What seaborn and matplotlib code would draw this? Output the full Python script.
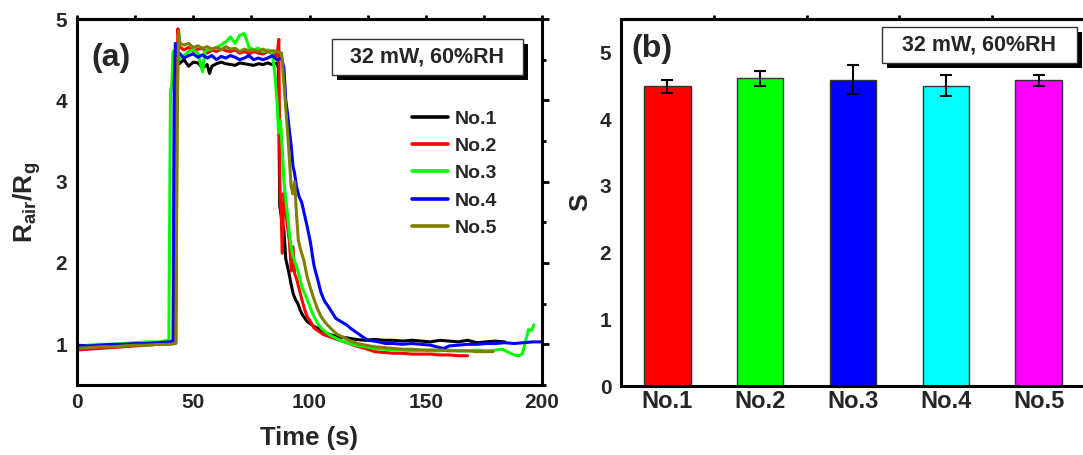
import numpy as np
import pandas as pd
import matplotlib
matplotlib.use("Agg")
import matplotlib.pyplot as plt
from matplotlib.patches import Rectangle
from matplotlib.ticker import MultipleLocator, NullFormatter
import seaborn as sns

# ---------------- data: panel (a) ----------------
t_no1 = [0, 5, 10, 15, 20, 25, 30, 35, 40, 42, 42.8, 43.2, 44, 46, 48, 50, 52, 54, 56, 57, 58, 60, 62, 64,
         66, 68, 70, 72, 74, 76, 78, 80, 82, 84, 86, 86.6, 87.2, 88, 89, 89.8, 91, 92, 93, 94, 95, 96, 97,
         98, 99, 100, 102, 104, 106, 108, 110, 113, 116, 120, 124, 128, 132, 136, 140, 144, 148, 152, 156,
         160, 164, 168, 172, 176, 180, 184]
y_no1 = [0.97, 0.98, 0.98, 0.99, 1.00, 1.00, 1.01, 1.01, 1.02, 1.02, 3.6, 4.5, 4.45, 4.5, 4.42, 4.47, 4.46,
         4.4, 4.44, 4.33, 4.42, 4.45, 4.47, 4.45, 4.44, 4.43, 4.46, 4.45, 4.44, 4.43, 4.45, 4.44, 4.46, 4.44,
         4.46, 4.4, 2.7, 2.55, 2.4, 2.05, 1.9, 1.75, 1.62, 1.55, 1.5, 1.42, 1.36, 1.32, 1.28, 1.26, 1.22,
         1.19, 1.15, 1.13, 1.11, 1.09, 1.08, 1.06, 1.05, 1.06, 1.05, 1.05, 1.04, 1.05, 1.04, 1.03, 1.05,
         1.04, 1.03, 1.05, 1.02, 1.03, 1.04, 1.03]

t_no2 = [0, 5, 10, 15, 20, 25, 30, 35, 40, 42.5, 43.0, 43.4, 44, 46, 48, 50, 52, 54, 56, 58, 60, 62, 64,
         66, 68, 70, 72, 74, 76, 78, 80, 82, 84, 86, 86.8, 87.3, 87.8, 88.3, 89, 89.6, 90.3, 91.3, 92.2,
         92.9, 93.6, 94.5, 95.2, 96, 97, 98, 99, 100, 101, 102, 104, 106, 108, 110, 113, 116, 120, 124,
         128, 132, 136, 140, 144, 148, 152, 156, 160, 164, 168]
y_no2 = [0.93, 0.94, 0.95, 0.96, 0.97, 0.98, 0.99, 1.00, 1.01, 1.02, 4.2, 4.88, 4.66, 4.62, 4.65, 4.6,
         4.63, 4.64, 4.58, 4.62, 4.6, 4.63, 4.61, 4.6, 4.62, 4.58, 4.6, 4.57, 4.6, 4.58, 4.57, 4.6, 4.58,
         4.55, 4.75, 2.9, 2.6, 2.12, 2.86, 2.7, 2.5, 2.28, 1.9, 2.2, 1.87, 1.8, 1.72, 1.63, 1.52, 1.42,
         1.34, 1.3, 1.25, 1.2, 1.16, 1.12, 1.1, 1.08, 1.05, 1.02, 0.98, 0.95, 0.91, 0.9, 0.89, 0.89, 0.88,
         0.88, 0.88, 0.87, 0.87, 0.86, 0.86]

t_no3 = [0, 5, 10, 15, 20, 25, 30, 35, 39.5, 40.2, 40.8, 41.3, 42, 44, 46, 48, 50, 52, 54, 55, 56, 58, 60,
         62, 64, 66, 68, 70, 72, 74, 76, 78, 80, 82, 84, 85.2, 86, 86.7, 87.5, 88.3, 89, 89.8, 90.5, 91.3,
         92.1, 92.9, 94.4, 95.5, 96.7, 98, 99, 100, 101, 102, 103.5, 105, 107, 109, 111, 113, 116, 120,
         124, 128, 132, 136, 140, 144, 148, 152, 156, 160, 164, 168, 172, 176, 180, 183, 185, 188, 190,
         191.5, 192.6, 193.5, 194.2, 195.5, 196.5]
y_no3 = [0.98, 0.99, 1.0, 1.0, 1.01, 1.02, 1.03, 1.03, 1.05, 4.1, 4.2, 4.6, 4.6, 4.5, 4.55, 4.6, 4.62,
         4.58, 4.35, 4.6, 4.62, 4.63, 4.65, 4.68, 4.72, 4.78, 4.7, 4.8, 4.82, 4.65, 4.62, 4.64, 4.6, 4.62,
         4.58, 4.3, 4.0, 3.6, 3.75, 3.4, 3.0, 2.78, 2.6, 2.37, 2.2, 2.08, 1.96, 1.85, 1.71, 1.62, 1.55,
         1.48, 1.4, 1.34, 1.26, 1.2, 1.15, 1.11, 1.08, 1.05, 1.02, 0.99, 0.97, 0.95, 0.94, 0.93, 0.93,
         0.92, 0.93, 0.92, 0.92, 0.93, 0.92, 0.92, 0.93, 0.92, 0.93, 0.94, 0.91, 0.87, 0.86, 0.88, 1.0,
         1.1, 1.18, 1.17, 1.24]

t_no4 = [0, 5, 10, 15, 20, 25, 30, 35, 40, 41.3, 41.8, 42.3, 43, 44, 46, 48, 50, 52, 54, 56, 58, 60, 62,
         64, 66, 68, 70, 72, 74, 76, 78, 80, 82, 84, 86, 88, 89, 89.8, 90.5, 91.3, 92.1, 92.9, 93.6, 94.4,
         95.5, 96.7, 97.8, 99, 100.5, 101.2, 102, 103.5, 105, 106.5, 108.2, 110, 111.3, 113.5, 115.9, 118,
         120.5, 122.5, 125, 128, 132.8, 136, 140, 144, 148, 152, 156, 158, 160, 164, 168, 172, 176, 180,
         184, 188, 192, 196, 200]
y_no4 = [0.99, 0.98, 0.99, 1.0, 1.0, 1.01, 1.01, 1.02, 1.03, 1.05, 4.2, 4.7, 4.55, 4.58, 4.52, 4.55,
         4.57, 4.53, 4.56, 4.52, 4.55, 4.5, 4.54, 4.52, 4.55, 4.53, 4.5, 4.52, 4.55, 4.5, 4.52, 4.5, 4.52,
         4.55, 4.5, 4.52, 4.4, 4.0, 3.85, 3.64, 3.45, 3.19, 3.1, 2.94, 2.82, 2.74, 2.6, 2.45, 2.24, 2.1,
         1.96, 1.8, 1.63, 1.53, 1.46, 1.38, 1.32, 1.28, 1.24, 1.19, 1.14, 1.1, 1.05, 1.04, 1.01, 1.01, 1.0,
         1.01, 1.0, 0.99, 0.96, 0.95, 0.98, 0.99, 1.0, 1.0, 1.01, 1.01, 1.02, 1.01, 1.02, 1.03, 1.03]

t_no5 = [0, 5, 10, 15, 20, 25, 30, 35, 40, 42.5, 43.2, 43.7, 44.3, 46, 48, 50, 52, 54, 56, 58, 60, 62,
         64, 66, 68, 70, 72, 74, 76, 78, 80, 82, 84, 86, 88, 89, 89.8, 90.6, 91.3, 92.1, 92.9, 93.6, 94.4,
         95.2, 96.3, 97.5, 99, 100.5, 102, 103.5, 105, 107, 109.7, 112, 114.4, 117, 120.5, 124, 128, 132,
         136, 140, 144, 148, 152, 156, 160, 164, 168, 172, 176, 179]
y_no5 = [0.95, 0.96, 0.97, 0.97, 0.98, 0.99, 0.99, 1.0, 1.0, 1.01, 4.0, 4.85, 4.7, 4.68, 4.7, 4.65,
         4.67, 4.64, 4.66, 4.63, 4.65, 4.62, 4.66, 4.63, 4.64, 4.6, 4.63, 4.61, 4.62, 4.6, 4.63, 4.6, 4.61,
         4.6, 4.58, 4.2, 3.9, 3.6, 3.3, 2.94, 2.85, 3.0, 2.6, 2.28, 2.15, 2.04, 1.83, 1.68, 1.55, 1.43,
         1.34, 1.26, 1.18, 1.12, 1.09, 1.05, 1.01, 0.99, 0.97, 0.96, 0.95, 0.94, 0.94, 0.93, 0.93, 0.93,
         0.92, 0.92, 0.92, 0.91, 0.91, 0.91]

series_names = ["No.1", "No.2", "No.3", "No.4", "No.5"]
line_colors = ["#000000", "#FF0000", "#00FF00", "#0000FF", "#808000"]

# ---------------- data: panel (b) ----------------
bar_labels = ["No.1", "No.2", "No.3", "No.4", "No.5"]
bar_values = [4.49, 4.61, 4.59, 4.50, 4.58]
bar_errors = [0.10, 0.11, 0.22, 0.16, 0.08]
bar_colors = ["#FF0000", "#00FF00", "#0000FF", "#00FFFF", "#FF00FF"]

condition_text = "32 mW, 60%RH"

# ---------------- style ----------------
sns.set_theme(style="white")
plt.rcParams["font.family"] = ["Liberation Sans", "DejaVu Sans"]
plt.rcParams["font.weight"] = "bold"
plt.rcParams["mathtext.fontset"] = "custom"
plt.rcParams["mathtext.rm"] = "Liberation Sans:bold"
plt.rcParams["mathtext.bf"] = "Liberation Sans:bold"
plt.rcParams["mathtext.it"] = "Liberation Sans:bold"
plt.rcParams["axes.linewidth"] = 2.2

fig = plt.figure(figsize=(10.83, 4.55), dpi=100)
W, H = 1083, 455

def px_axes(l, t, r, b):
    return fig.add_axes([l / W, 1 - b / H, (r - l) / W, (b - t) / H])

ax1 = px_axes(77, 19, 542, 385)
ax2 = px_axes(621, 19, 1085, 386)

# ---------------- panel (a) ----------------
frames = []
for name, t, y in zip(series_names, [t_no1, t_no2, t_no3, t_no4, t_no5],
                      [y_no1, y_no2, y_no3, y_no4, y_no5]):
    frames.append(pd.DataFrame({"t": t, "y": y, "series": name}))
df = pd.concat(frames, ignore_index=True)

sns.lineplot(data=df, x="t", y="y", hue="series", hue_order=series_names,
             palette=dict(zip(series_names, line_colors)), estimator=None,
             linewidth=2.2, ax=ax1)

ax1.set_xlim(0, 200)
ax1.set_ylim(0.5, 5)
ax1.xaxis.set_major_locator(MultipleLocator(50))
ax1.xaxis.set_minor_locator(MultipleLocator(25))
ax1.yaxis.set_major_locator(MultipleLocator(1))
ax1.yaxis.set_minor_locator(MultipleLocator(0.5))
ax1.tick_params(axis="x", which="major", direction="in", length=5, width=2,
                labelsize=15, pad=6, top=False, color="black")
ax1.tick_params(axis="x", which="minor", direction="in", length=2, width=2,
                top=False, color="black")
ax1.tick_params(axis="y", which="major", direction="out", length=5, width=2,
                labelsize=15, pad=2, right=True, color="black")
ax1.tick_params(axis="y", which="minor", direction="out", length=3, width=2,
                right=True, color="black")
sec1 = ax1.secondary_xaxis("top")
sec1.xaxis.set_major_locator(MultipleLocator(25))
sec1.xaxis.set_major_formatter(NullFormatter())
sec1.tick_params(direction="out", length=3, width=2, color="black")
sec1.spines["top"].set_linewidth(2.2)

ax1.set_xlabel("Time (s)", fontsize=18.5, fontweight="bold", labelpad=10)
ax1.set_ylabel(r"$\mathregular{R_{air}/R_g}$", fontsize=19, fontweight="bold", labelpad=9)

leg = ax1.legend(frameon=False, fontsize=14, loc="upper left",
                 bbox_to_anchor=(412 / W, 1 - 110 / H), bbox_transform=fig.transFigure,
                 borderpad=0, borderaxespad=0, handlelength=1.85, handletextpad=0.35,
                 labelspacing=0.5)
for lh in leg.get_lines():
    lh.set_linewidth(2.6)
for txt in leg.get_texts():
    txt.set_fontweight("bold")

ax1.text(0.0725, 0.893, "(a)", transform=ax1.transAxes, fontsize=23,
         fontweight="bold", ha="center", va="center")

def shadow_box(ax, x0, y0, x1, y1, dx, dy, text, tx, ty):
    fw = ax.get_position().width * W
    fh = ax.get_position().height * H
    ax.add_patch(Rectangle((x0 + dx / fw, y0 - dy / fh), x1 - x0, y1 - y0,
                           transform=ax.transAxes, facecolor="black",
                           edgecolor="black", lw=0, zorder=5, clip_on=False))
    ax.add_patch(Rectangle((x0, y0), x1 - x0, y1 - y0, transform=ax.transAxes,
                           facecolor="white", edgecolor="#333333", lw=1.0,
                           zorder=6, clip_on=False))
    ax.text(tx, ty, text, transform=ax.transAxes, fontsize=15.5,
            fontweight="bold", ha="center", va="center", zorder=7)

shadow_box(ax1, 0.548, 0.847, 0.959, 0.945, 5, 5, condition_text, 0.753, 0.895)

# ---------------- panel (b) ----------------
dfb = pd.DataFrame({"label": bar_labels, "S": bar_values})
sns.barplot(data=dfb, x="label", y="S", hue="label", palette=bar_colors,
            order=bar_labels, hue_order=bar_labels, legend=False, width=0.5,
            saturation=1, edgecolor="#333333", linewidth=1.0, ax=ax2)
ax2.errorbar(x=np.arange(len(bar_values)), y=bar_values, yerr=bar_errors,
             fmt="none", ecolor="black", elinewidth=1.5, capsize=4, capthick=1.5,
             zorder=5)
ax2.set_axisbelow(False)

ax2.set_xlim(-0.5, 4.5)
ax2.set_ylim(0, 5.5)
ax2.yaxis.set_major_locator(MultipleLocator(1))
ax2.yaxis.set_minor_locator(MultipleLocator(0.5))
ax2.xaxis.set_minor_locator(MultipleLocator(0.5))
ax2.tick_params(axis="y", which="major", direction="out", length=5, width=2,
                labelsize=15, pad=2, color="black")
ax2.tick_params(axis="y", which="minor", direction="out", length=3, width=2,
                color="black")
ax2.tick_params(axis="x", which="major", direction="in", length=6, width=2.5,
                labelsize=17, pad=3, top=False, color="black")
ax2.tick_params(axis="x", which="minor", direction="out", length=2, width=2,
                top=False, color="black")
sec2 = ax2.secondary_xaxis("top")
sec2.set_xticks([0.5, 1.5, 2.5, 3.5])
sec2.xaxis.set_major_formatter(NullFormatter())
sec2.tick_params(direction="out", length=3, width=2, color="black")
sec2.spines["top"].set_linewidth(2.2)

ax2.set_xlabel("")
ax2.set_ylabel("S", fontsize=19, fontweight="bold", labelpad=5)

ax2.text(0.067, 0.918, "(b)", transform=ax2.transAxes, fontsize=23,
         fontweight="bold", ha="center", va="center")
shadow_box(ax2, 0.563, 0.879, 0.983, 0.977, 5, 5, condition_text, 0.771, 0.929)

for ax in (ax1, ax2):
    for sp in ax.spines.values():
        sp.set_visible(True)
        sp.set_color("black")
        sp.set_linewidth(2.2)
    for lab in ax.get_xticklabels() + ax.get_yticklabels():
        lab.set_fontweight("bold")

fig.savefig("out.png", dpi=100)
